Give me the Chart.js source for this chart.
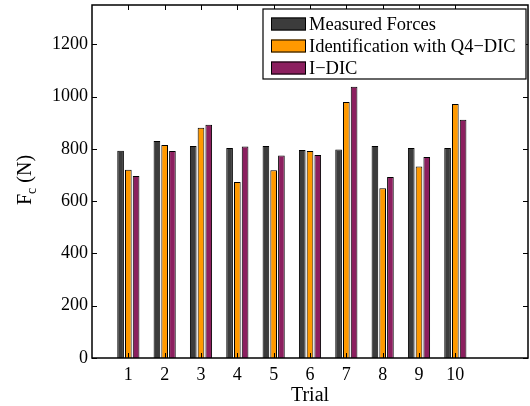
<!DOCTYPE html>
<html>
<head>
<meta charset="utf-8">
<script src="https://cdn.jsdelivr.net/npm/chart.js@4.4.1/dist/chart.umd.min.js"></script>
<style>
  html, body { margin: 0; padding: 0; background: #fff; }
  #wrap { width: 530px; height: 406px; }
</style>
</head>
<body>
<div id="wrap"><canvas id="myChart" width="530" height="406"></canvas></div>
<script>
// Trial numbers and forces
const trials = [1, 2, 3, 4, 5, 6, 7, 8, 9, 10];
const measuredForces = [793, 830, 811, 803, 811, 795, 797, 811, 803, 803];
const q4Dic = [720, 815, 881, 673, 718, 792, 979, 649, 732, 971];
const iDic = [696, 792, 892, 809, 774, 776, 1037, 692, 769, 911];
const seriesNames = ['Measured Forces', 'Identification with Q4\u2212DIC', 'I\u2212DIC'];
const yTicks = [0, 200, 400, 600, 800, 1000, 1200];

const colors = ['#3c3c3c', '#ff9900', '#8c1f5f'];
const serif = '"Liberation Serif", "DejaVu Serif", serif';

function toPoints(values) {
    return values.map((v, i) => ({ x: trials[i], y: v }));
}

// Box round the plot with inward ticks, MATLAB style
const matlabAxes = {
    id: 'matlabAxes',
    afterDatasetsDraw(chart) {
        const ctx = chart.ctx;
        const a = chart.chartArea;
        const xs = chart.scales.x, ys = chart.scales.y;
        ctx.save();
        ctx.strokeStyle = '#000';
        ctx.lineWidth = 1;
        ctx.beginPath();
        trials.forEach(t => {
            const px = Math.round(xs.getPixelForValue(t)) + 0.5;
            ctx.moveTo(px, a.bottom); ctx.lineTo(px, a.bottom - 5);
            ctx.moveTo(px, a.top); ctx.lineTo(px, a.top + 5);
        });
        yTicks.forEach(v => {
            const py = Math.round(ys.getPixelForValue(v)) + 0.5;
            ctx.moveTo(a.left, py); ctx.lineTo(a.left + 5, py);
            ctx.moveTo(a.right, py); ctx.lineTo(a.right - 5, py);
        });
        ctx.stroke();
        ctx.lineWidth = 1.5;
        ctx.strokeRect(a.left, a.top, a.right - a.left, a.bottom - a.top);

        // legend box inside the plot
        const lx = 263, ly = 9, lw = 263, lh = 70;
        ctx.fillStyle = '#fff';
        ctx.fillRect(lx, ly, lw, lh);
        ctx.lineWidth = 1.2;
        ctx.strokeRect(lx, ly, lw, lh);
        ctx.font = '18.5px ' + serif;
        ctx.textBaseline = 'middle';
        chart.data.datasets.forEach((ds, i) => {
            const cy = 24 + i * 22;
            ctx.fillStyle = ds.backgroundColor;
            ctx.fillRect(271, cy - 6.5, 35, 13);
            ctx.lineWidth = 1;
            ctx.strokeStyle = '#000';
            ctx.strokeRect(271.5, cy - 6, 34, 12);
            ctx.fillStyle = '#000';
            ctx.fillText(ds.label, 309, cy + 1);
        });

        // y axis title: F with subscript c
        ctx.translate(26, 180);
        ctx.rotate(-Math.PI / 2);
        ctx.textBaseline = 'middle';
        ctx.textAlign = 'left';
        ctx.font = '20px ' + serif;
        const fW = ctx.measureText('F').width;
        ctx.font = '14px ' + serif;
        const cW = ctx.measureText('c').width;
        ctx.font = '20px ' + serif;
        const nW = ctx.measureText(' (N)').width;
        let x0 = -(fW + cW + nW) / 2;
        ctx.fillText('F', x0, 0);
        ctx.font = '14px ' + serif;
        ctx.fillText('c', x0 + fW, 6);
        ctx.font = '20px ' + serif;
        ctx.fillText(' (N)', x0 + fW + cW, 0);
        ctx.restore();
    }
};

const ctx = document.getElementById('myChart').getContext('2d');
const myChart = new Chart(ctx, {
    type: 'bar',
    data: {
        datasets: [
            { label: seriesNames[0], data: toPoints(measuredForces), backgroundColor: colors[0] },
            { label: seriesNames[1], data: toPoints(q4Dic), backgroundColor: colors[1] },
            { label: seriesNames[2], data: toPoints(iDic), backgroundColor: colors[2] }
        ]
    },
    options: {
        responsive: false,
        animation: false,
        devicePixelRatio: 1,
        layout: { padding: { left: 0, right: 2, top: 5, bottom: 0 } },
        datasets: {
            bar: {
                borderColor: '#000',
                borderWidth: 1,
                barPercentage: 0.86,
                categoryPercentage: 0.64
            }
        },
        plugins: {
            legend: { display: false },
            tooltip: { enabled: false }
        },
        scales: {
            x: {
                type: 'linear',
                min: 0,
                max: 12,
                offset: false,
                grid: { display: false, drawTicks: false },
                border: { display: false },
                afterBuildTicks: (scale) => {
                    scale.ticks = trials.map(t => ({ value: t }));
                },
                afterFit: (scale) => {
                    scale.height = 48;
                    scale.paddingLeft = 0;
                    scale.paddingRight = 0;
                },
                ticks: {
                    autoSkip: false,
                    padding: 6,
                    color: '#000',
                    font: { family: serif, size: 18 },
                    callback: (v) => String(v)
                },
                title: {
                    display: true,
                    text: 'Trial',
                    color: '#000',
                    padding: { top: 0, bottom: -2 },
                    font: { family: serif, size: 20 }
                }
            },
            y: {
                min: 0,
                max: 1350,
                grid: { display: false, drawTicks: false },
                border: { display: false },
                afterBuildTicks: (scale) => {
                    scale.ticks = yTicks.map(v => ({ value: v }));
                },
                afterFit: (scale) => {
                    scale.width = 92;
                    scale.paddingTop = 0;
                    scale.paddingBottom = 0;
                },
                ticks: {
                    padding: 4,
                    color: '#000',
                    font: { family: serif, size: 18 },
                    callback: (v) => String(v)
                }
            }
        }
    },
    plugins: [matlabAxes]
});
</script>
</body>
</html>
